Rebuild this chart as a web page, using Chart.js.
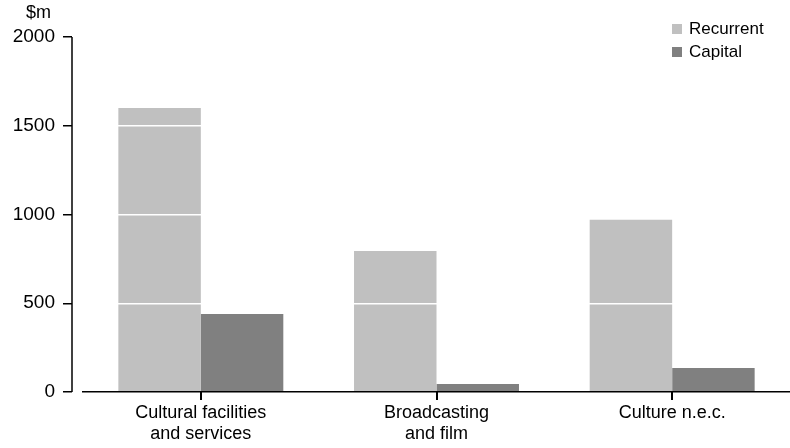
<!DOCTYPE html>
<html>
<head>
<meta charset="utf-8">
<script src="https://cdn.jsdelivr.net/npm/chart.js@4"></script>
<style>
    body { margin: 0; background: #fff; }
    #wrap { position: relative; width: 790px; height: 448px; font-family: "Liberation Sans", Arial, sans-serif; color: #000; }
    #spending-chart { display: block; }
    #unit { position: absolute; left: 26px; top: 3px; font-size: 18px; line-height: 18px; }
    #legend { position: absolute; left: 672px; top: 17px; font-size: 17px; line-height: 23px; }
    #legend .item { display: flex; align-items: center; }
    #legend .box { width: 10px; height: 10px; margin-right: 7px; }
</style>
</head>
<body>
<div id="wrap">
    <canvas id="spending-chart" width="790" height="448"></canvas>
    <div id="unit">$m</div>
    <div id="legend"></div>
</div>
<script>
const categories = [['Cultural facilities', 'and services'], ['Broadcasting', 'and film'], 'Culture n.e.c.'];
const recurrent = [1600, 795, 970];
const capital = [440, 45, 135];
const yTicks = [0, 500, 1000, 1500, 2000];

const seriesNames = ['Recurrent', 'Capital'];
const seriesColors = ['#c0c0c0', '#808080'];

// y axis line set a little apart from the plot, and x tick marks under each category
const axisMarks = {
    id: 'axisMarks',
    afterDraw(chart) {
        const {ctx, chartArea} = chart;
        const xScale = chart.scales.x;
        const x = chartArea.left - 11;
        ctx.save();
        ctx.strokeStyle = '#000';
        ctx.lineWidth = 1.5;
        ctx.beginPath();
        ctx.moveTo(x, chart.scales.y.getPixelForValue(2000));
        ctx.lineTo(x, chart.scales.y.getPixelForValue(0));
        ctx.stroke();
        ctx.fillStyle = '#000';
        for (let i = 0; i < categories.length; i++) {
            const px = Math.round(xScale.getPixelForValue(i));
            ctx.fillRect(px - 1, chartArea.bottom, 2, 8);
        }
        ctx.restore();
    }
};

const spendingElement = document.getElementById('spending-chart').getContext('2d');

const spendingChart = new Chart(spendingElement, {
    type: 'bar',
    data: {
        labels: categories,
        datasets: [{
            label: seriesNames[0],
            data: recurrent,
            backgroundColor: seriesColors[0]
        }, {
            label: seriesNames[1],
            data: capital,
            backgroundColor: seriesColors[1]
        }]
    },
    options: {
        responsive: false,
        animation: false,
        layout: { padding: { top: 37, right: 0, left: 0, bottom: 0 } },
        categoryPercentage: 0.7,
        barPercentage: 1.0,
        plugins: {
            legend: { display: false },
            tooltip: { enabled: false }
        },
        scales: {
            x: {
                border: { display: true, color: '#000', width: 1.5, z: 2 },
                grid: { display: false, drawTicks: false },
                ticks: { color: '#000', padding: 10, font: { family: 'Liberation Sans', size: 18 }, maxRotation: 0, autoSkip: false },
                afterFit: (scale) => { scale.height = 56; }
            },
            y: {
                min: 0,
                max: 2000,
                border: { display: false },
                afterBuildTicks: (scale) => { scale.ticks = yTicks.map(v => ({ value: v })); },
                grid: {
                    z: 1,
                    color: (c) => (c.tick && c.tick.value === 0) ? 'rgba(0,0,0,0)' : '#ffffff',
                    lineWidth: 1.5,
                    drawTicks: true,
                    tickLength: 20,
                    tickColor: '#000',
                    tickWidth: 1.5,
                    tickBorderDash: [9, 11]
                },
                ticks: {
                    color: '#000',
                    padding: 8,
                    font: { family: 'Liberation Sans', size: 19 },
                    callback: (v) => String(v)
                },
                afterFit: (scale) => { scale.width = 83; }
            }
        }
    },
    plugins: [axisMarks]
});

// html legend from the dataset labels and colours
const legendBox = document.getElementById('legend');
spendingChart.data.datasets.forEach(ds => {
    const item = document.createElement('div');
    item.className = 'item';
    const box = document.createElement('span');
    box.className = 'box';
    box.style.background = ds.backgroundColor;
    const text = document.createElement('span');
    text.textContent = ds.label;
    item.appendChild(box);
    item.appendChild(text);
    legendBox.appendChild(item);
});
</script>
</body>
</html>
